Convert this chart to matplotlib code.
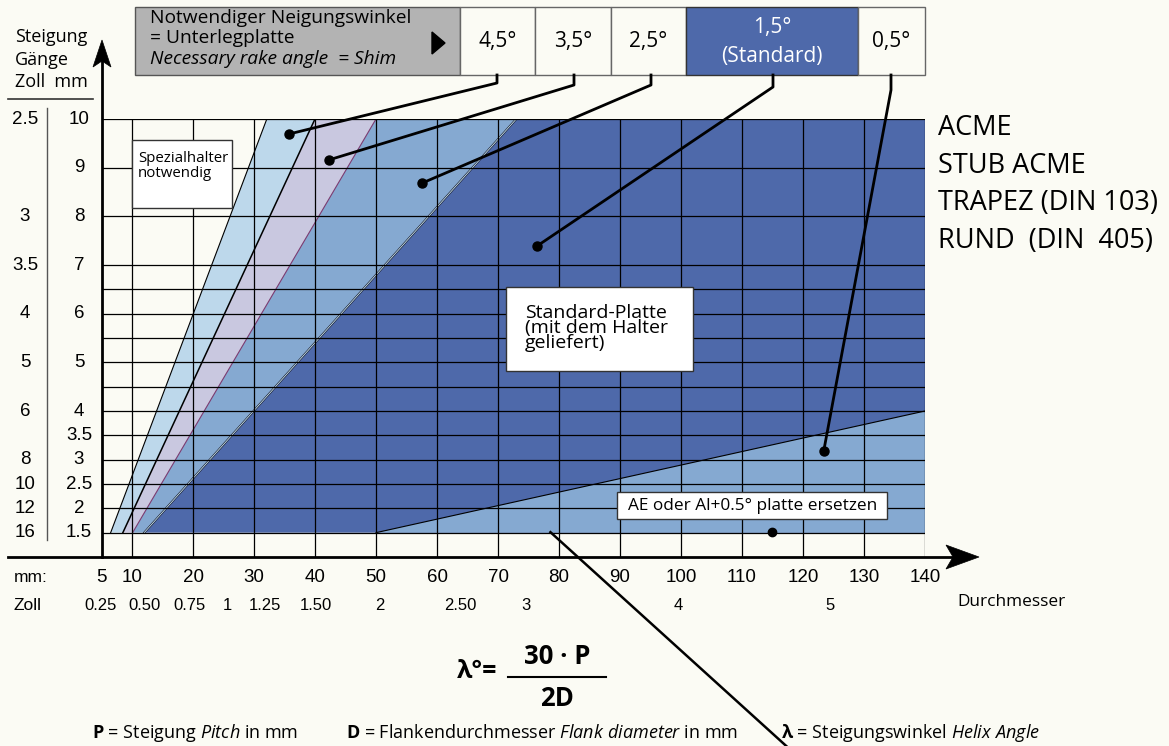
import matplotlib.pyplot as plt
import matplotlib.transforms as mtransforms
from matplotlib.patches import Rectangle, Polygon
from matplotlib.lines import Line2D

W, H = 1169, 746
plt.rcParams['font.family'] = ['Open Sans', 'DejaVu Sans']
plt.rcParams['mathtext.fontset'] = 'custom'
plt.rcParams['mathtext.rm'] = 'Open Sans'
plt.rcParams['mathtext.it'] = 'Open Sans:italic'
plt.rcParams['mathtext.bf'] = 'Open Sans:bold'
NUM = ['Liberation Sans', 'DejaVu Sans']

# ---- data ----
mm_ticks = [5, 10, 20, 30, 40, 50, 60, 70, 80, 90, 100, 110, 120, 130, 140]
zoll_text = ['0.25', '0.50', '0.75', '1', '1.25', '1.50', '2', '2.50', '3', '4', '5']
zoll_at = [4.8, 12.0, 19.5, 25.7, 31.8, 40.2, 50.7, 63.8, 74.6, 99.5, 124.4]
pitch_ticks = [10, 9, 8, 7, 6, 5, 4, 3.5, 3, 2.5, 2, 1.5]
tpi_text = ['2.5', '3', '3.5', '4', '5', '6', '8', '10', '12', '16']
tpi_at = [10, 8, 7, 6, 5, 4, 3, 2.5, 2, 1.5]
grid_x = [10, 20, 30, 40, 50, 60, 70, 80, 90, 100, 110, 120, 130, 140]
grid_y = [10, 9, 8, 7, 6.5, 6, 5.5, 5, 4.5, 4, 3.5, 3, 2.5, 2, 1.5]

# zone limits: diameter (mm) at pitch 1.5 and at pitch 10
p_lo, p_hi = 1.5, 10
lim_45 = [6.5, 32.1]
lim_35 = [8.5, 40.0]
lim_25 = [10.1, 50.0]
lim_15 = [12.0, 73.0]
# lower edge of the 1.5 zone (0.5 shim below it)
lim_05_d = [50, 140]
lim_05_p = [1.5, 4.0]

shim_text = ['4,5°', '3,5°', '2,5°', '1,5°\n(Standard)', '0,5°']
# marker dots for each shim zone (diameter, pitch)
dot_d = [35.7, 42.3, 57.5, 76.4, 123.4]
dot_p = [9.69, 9.16, 8.68, 7.39, 3.18]
types = ['ACME', 'STUB ACME', 'TRAPEZ (DIN 103)', 'RUND  (DIN  405)']

BG = '#fbfbf4'
C_LIGHT = '#bdd8eb'
C_LAV = '#c9c8e0'
C_MID = '#85a9d1'
C_DARK = '#4e69aa'

fig = plt.figure(figsize=(W / 100, H / 100), dpi=100, facecolor=BG)
# pixel coordinates (y down) for the layout pieces
pix = mtransforms.Affine2D().scale(1 / W, -1 / H).translate(0, 1) + fig.transFigure

x0px, x1px = 101.5, 925   # D = 5 .. 140
y0px, y1px = 557, 119     # P = 1 .. 10
ax = fig.add_axes([x0px / W, 1 - y0px / H, (x1px - x0px) / W, (y0px - y1px) / H])
ax.set_xlim(5, 140)
ax.set_ylim(1, 10)
ax.axis('off')
ax.patch.set_alpha(0)

# zones
ax.fill([lim_45[0], lim_45[1], lim_35[1], lim_35[0]], [p_lo, p_hi, p_hi, p_lo], color=C_LIGHT, lw=0)
ax.fill([lim_35[0], lim_35[1], lim_25[1], lim_25[0]], [p_lo, p_hi, p_hi, p_lo], color=C_LAV, lw=0)
ax.fill([lim_25[0], lim_25[1], lim_15[1], lim_15[0]], [p_lo, p_hi, p_hi, p_lo], color=C_MID, lw=0)
ax.fill([lim_15[0], lim_15[1], 140, 140], [p_lo, p_hi, p_hi, p_lo], color=C_DARK, lw=0)
ax.fill([lim_05_d[0], lim_05_d[1], lim_05_d[1]], [lim_05_p[0], lim_05_p[1], p_lo], color=C_MID, lw=0)

ax.plot(lim_45, [p_lo, p_hi], color='k', lw=0.8)
ax.plot(lim_35, [p_lo, p_hi], color='k', lw=1.1)
ax.plot(lim_25, [p_lo, p_hi], color='#7b3a70', lw=0.8)
ax.plot(lim_15, [p_lo, p_hi], color='#1a1a2a', lw=1.5)
ax.plot(lim_15, [p_lo, p_hi], color='#c4e6f4', lw=0.6)
ax.plot(lim_05_d, lim_05_p, color='k', lw=0.8)

# grid
ax.hlines(grid_y, 5, 140, color='k', lw=0.9)
ax.vlines(grid_x, 1, 10, color='k', lw=0.9)

# axes with arrows
ax.plot([5, 5], [1, 11.25], color='k', lw=2, clip_on=False)
ax.plot([-10.3, 144.5], [1, 1], color='k', lw=2, clip_on=False)
fig.add_artist(Polygon([(102, 40), (93, 67), (102, 61), (111, 67)], closed=True,
                       transform=pix, fc='k', ec='k', lw=0.5))
fig.add_artist(Polygon([(979, 557), (946, 545), (953, 557), (946, 569)], closed=True,
                       transform=pix, fc='k', ec='k', lw=0.5))

# tick labels
bx = mtransforms.blended_transform_factory(ax.transData, pix)
by = mtransforms.blended_transform_factory(pix, ax.transData)
for v in mm_ticks:
    ax.text(v, 577, str(v), transform=bx, ha='center', va='center', fontsize=13.5, family=NUM)
for t, v in zip(zoll_text, zoll_at):
    ax.text(v, 605, t, transform=bx, ha='center', va='center', fontsize=12, family=NUM)
for v in pitch_ticks:
    ax.text(79, v, f'{v:g}', transform=by, ha='center', va='center', fontsize=13.5, family=NUM)
for t, v in zip(tpi_text, tpi_at):
    ax.text(25, v, t, transform=by, ha='center', va='center', fontsize=13.5, family=NUM)

fig.add_artist(Line2D([47, 47], [108, 540], transform=pix, color='#555', lw=1))
fig.add_artist(Line2D([8, 93], [99, 99], transform=pix, color='#333', lw=1.2))
fig.text(15, 37, 'Steigung', transform=pix, va='center', fontsize=13)
fig.text(15, 60, 'Gänge', transform=pix, va='center', fontsize=13)
fig.text(15, 82, 'Zoll  mm', transform=pix, va='center', fontsize=13)
fig.text(14, 577, 'mm:', transform=pix, va='center', fontsize=12.5, family=NUM)
fig.text(14, 606, 'Zoll', transform=pix, va='center', fontsize=12.5, family=NUM)
fig.text(957, 602, 'Durchmesser', transform=pix, va='center', fontsize=12.4)

# header
fig.add_artist(Rectangle((135, 7), 325, 68, transform=pix, fc='#b3b3b3', ec='#555', lw=1))
fig.text(150, 18, 'Notwendiger Neigungswinkel', transform=pix, va='center', fontsize=13.8)
fig.text(150, 38, '= Unterlegplatte', transform=pix, va='center', fontsize=13.8)
fig.text(150, 59, 'Necessary rake angle  = Shim', transform=pix, va='center', fontsize=13.8, style='italic')
fig.add_artist(Polygon([(432, 32), (432, 54), (445, 43)], closed=True, transform=pix, fc='k', ec='k'))

edges = [460, 535, 611, 686, 858, 925]
for i, t in enumerate(shim_text):
    std = '(Standard)' in t
    fig.add_artist(Rectangle((edges[i], 7), edges[i + 1] - edges[i], 68, transform=pix,
                             fc=C_DARK if std else BG, ec='#333' if std else '#666', lw=1))
    fig.text((edges[i] + edges[i + 1]) / 2, 42, t, transform=pix, ha='center', va='center',
             fontsize=15, color='white' if std else 'k', linespacing=1.55)

# leaders from header to zones
kinks = [(497, 83), (574, 85), (651, 85), (773, 87), (891, 90)]
for (kx, ky), d, p in zip(kinks, dot_d, dot_p):
    dx, dy = pix.inverted().transform(ax.transData.transform((d, p)))
    fig.add_artist(Line2D([kx, kx, dx], [75, ky, dy], transform=pix, color='k', lw=2))
ax.plot(dot_d, dot_p, 'o', color='k', ms=6.5, clip_on=False)

# boxes in chart
fig.add_artist(Rectangle((132, 140), 100, 68, transform=pix, fc='white', ec='#333', lw=1))
fig.text(138, 166, 'Spezialhalter\nnotwendig', transform=pix, va='center', fontsize=10.8, linespacing=1.0)
fig.add_artist(Rectangle((506, 287), 187, 84, transform=pix, fc='white', ec='#333', lw=1))
fig.text(525, 328, 'Standard-Platte\n(mit dem Halter\ngeliefert)', transform=pix, va='center',
         fontsize=14, linespacing=0.82)
fig.add_artist(Rectangle((617, 492), 270, 27, transform=pix, fc='white', ec='#333', lw=1))
fig.text(753, 506, 'AE oder Al+0.5° platte ersetzen', transform=pix, ha='center', va='center', fontsize=12.4)
ax.plot([114.9], [1.51], 'o', color='k', ms=6, clip_on=False)
ax.plot([78.6, 117.4], [1.51, -2.9], color='k', lw=1.8, clip_on=False)

# thread types
for i, t in enumerate(types):
    fig.text(938, 128 + i * 37.7, t, transform=pix, va='center', fontsize=19.5)

# formula
fig.text(497, 671, 'λ°=', transform=pix, ha='right', va='center', fontsize=18, weight='bold')
fig.text(557, 656, '30 · P', transform=pix, ha='center', va='center', fontsize=18.5, weight='bold')
fig.add_artist(Line2D([508, 606], [677, 677], transform=pix, color='k', lw=1.5))
fig.text(557, 698, '2D', transform=pix, ha='center', va='center', fontsize=18.5, weight='bold')

fig.text(92, 733, r'$\mathbf{P}$ = Steigung $\mathit{Pitch}$ in mm', transform=pix, va='center', fontsize=13)
fig.text(346, 733, r'$\mathbf{D}$ = Flankendurchmesser $\mathit{Flank\ diameter}$ in mm',
         transform=pix, va='center', fontsize=13)
fig.text(781, 733, r'$\mathbf{λ}$ = Steigungswinkel $\mathit{Helix\ Angle}$', transform=pix, va='center', fontsize=13)

fig.savefig('out.png', dpi=100, facecolor=BG)
